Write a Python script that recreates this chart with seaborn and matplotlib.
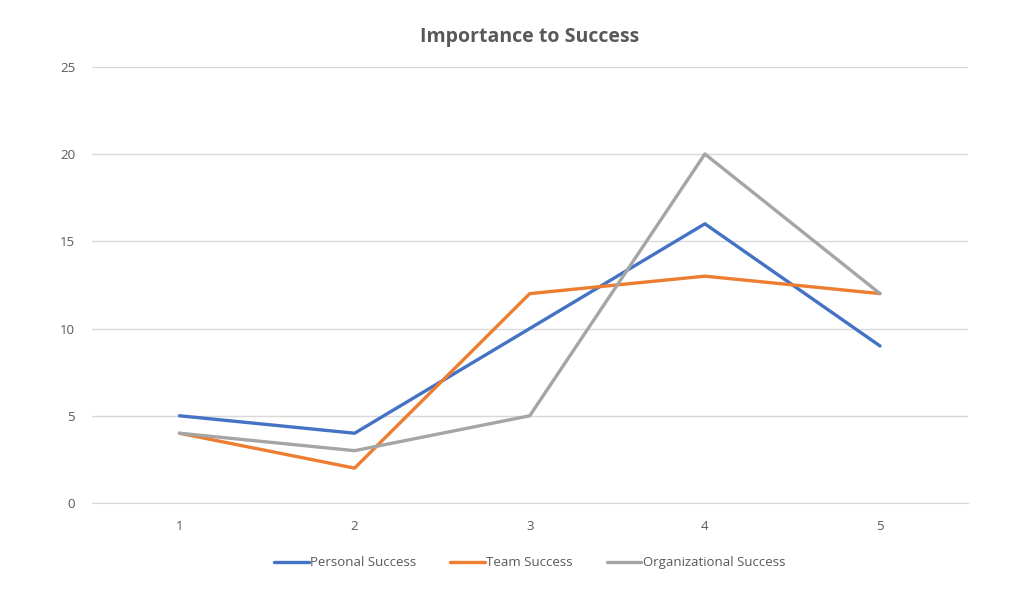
import pandas as pd
import matplotlib
matplotlib.use("Agg")
import matplotlib.pyplot as plt
import seaborn as sns

categories = [1, 2, 3, 4, 5]
personal = [5, 4, 10, 16, 9]
team = [4, 2, 12, 13, 12]
organizational = [4, 3, 5, 20, 12]
series_names = ['Personal Success', 'Team Success', 'Organizational Success']
colors = ['#4472C4', '#ED7D31', '#A5A5A5']

df = pd.DataFrame({'x': categories * 3,
                   'value': personal + team + organizational,
                   'series': [n for n in series_names for _ in categories]})

sns.set_style('white')
plt.rcParams['font.family'] = ['Open Sans', 'DejaVu Sans']

fig = plt.figure(figsize=(10.1, 5.96), dpi=100)
ax = fig.add_axes([0.091, 0.156, 0.867, 0.732])
sns.lineplot(data=df, x='x', y='value', hue='series', palette=colors,
             linewidth=2.4, ax=ax, legend=True)

ax.set_xlim(0.5, 5.5)
ax.set_ylim(0, 25)
ax.set_yticks([0, 5, 10, 15, 20, 25])
ax.set_xticks(categories)
ax.yaxis.grid(True, color='#D9D9D9', linewidth=1)
ax.xaxis.grid(False)
for s in ['top', 'right', 'left']:
    ax.spines[s].set_visible(False)
ax.spines['bottom'].set_color('#D9D9D9')
ax.tick_params(axis='both', length=0, labelsize=9.5, labelcolor='#595959', pad=12)
ax.set_xlabel('')
ax.set_ylabel('')
ax.set_title('Importance to Success', fontsize=14, fontweight='bold',
             color='#595959', pad=18)

handles, labels = ax.get_legend_handles_labels()
ax.legend(handles, labels, loc='upper center', bbox_to_anchor=(0.5, -0.095),
          ncol=3, frameon=False, fontsize=9.5, labelcolor='#595959',
          handlelength=2.6, handletextpad=0.1, columnspacing=2.6)

fig.savefig('out.png', dpi=100)
